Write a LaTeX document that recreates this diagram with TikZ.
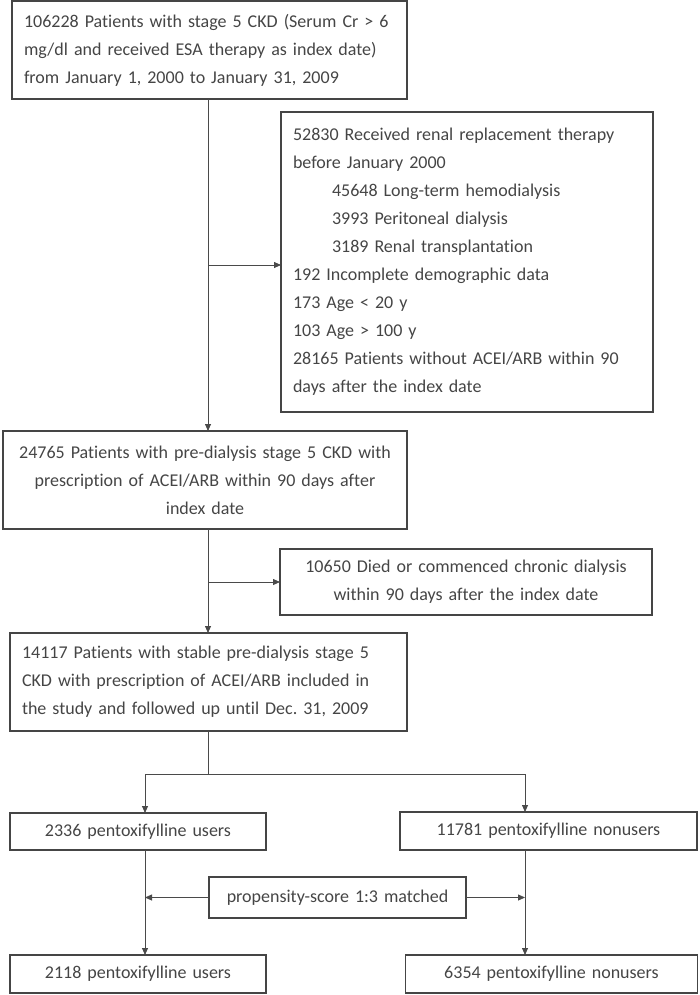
\documentclass[tikz,border=0pt]{standalone}
\usepackage{fontspec}
\setmainfont{Carlito}[Ligatures=NoCommon]
\usetikzlibrary{arrows.meta}
\definecolor{ink}{HTML}{454545}
\definecolor{edge}{HTML}{4A4A4A}
\begin{document}
\begin{tikzpicture}[x=1pt,y=-1pt,
  box/.style={draw=ink, line width=1.1pt, text=ink, rectangle,
    font=\fontsize{18}{28}\selectfont\frenchspacing, inner xsep=12pt, inner ysep=0pt, outer sep=0pt},
  arr/.style={draw=edge, line width=0.8pt, -{Triangle[length=7pt,width=6pt]}},
  ln/.style={draw=edge, line width=0.8pt}]
\useasboundingbox (0,0) rectangle (700,995);

\node[box, text width=371pt, minimum height=98pt, align=left] (b1) at (209.5,50)
 {106228 Patients with stage 5 CKD (Serum Cr > 6\\
  mg/dl and received ESA therapy as index date)\\
  from January 1, 2000 to January 31, 2009};

\node[box, text width=348pt, minimum height=300pt, align=left] (b2) at (467,262)
 {52830 Received renal replacement therapy\\
  before January 2000\\
  \hspace*{39pt}45648 Long-term hemodialysis\\
  \hspace*{39pt}3993 Peritoneal dialysis\\
  \hspace*{39pt}3189 Renal transplantation\\
  192 Incomplete demographic data\\
  173 Age < 20 y\\
  103 Age > 100 y\\
  28165 Patients without ACEI/ARB within 90\\
  days after the index date};

\node[box, text width=380pt, minimum height=98pt, align=center] (b3) at (205,480)
 {24765 Patients with pre-dialysis stage 5 CKD with\\
  prescription of ACEI/ARB within 90 days after\\
  index date};

\node[box, text width=348pt, minimum height=66pt, align=center] (b5) at (466,582)
 {10650 Died or commenced chronic dialysis\\
  within 90 days after the index date};

\node[box, text width=373pt, minimum height=98pt, align=left] (b4) at (208.5,682)
 {14117 Patients with stable pre-dialysis stage 5\\
  CKD with prescription of ACEI/ARB included in\\
  the study and followed up until Dec. 31, 2009};

\node[box, text width=232pt, minimum height=37pt, align=center] (b6) at (138,831.5)
 {2336 pentoxifylline users};
\node[box, text width=273pt, minimum height=38pt, align=center] (b7) at (548.5,831)
 {11781 pentoxifylline nonusers};
\node[box, text width=233pt, minimum height=41pt, align=center] (b10) at (337.5,897.5)
 {propensity-score 1:3 matched};
\node[box, text width=232pt, minimum height=38pt, align=center] (b8) at (138,974)
 {2118 pentoxifylline users};
\node[box, text width=268pt, minimum height=38pt, align=center] (b9) at (551.5,974)
 {6354 pentoxifylline nonusers};

\coordinate (x1) at (208,0);
\coordinate (j1) at (208,265);
\coordinate (j2) at (208,582);
\coordinate (s) at (208,774);
\coordinate (xl) at (145,774);
\coordinate (xr) at (525,774);

\draw[arr] (b1.south -| x1) -- (b3.north -| x1);
\draw[arr] (j1) -- (j1 -| b2.west);
\draw[arr] (b3.south -| x1) -- (b4.north -| x1);
\draw[arr] (j2) -- (j2 -| b5.west);
\draw[ln] (b4.south -| x1) -- (s);
\draw[ln] (xl) -- (xr);
\draw[arr] (xl) -- (xl |- b6.north);
\draw[arr] (xr) -- (xr |- b7.north);
\draw[arr] (b6.south -| xl) -- (b8.north -| xl);
\draw[arr] (b7.south -| xr) -- (b9.north -| xr);
\draw[arr] (b10.west) -- (b10.west -| xl);
\draw[arr] (b10.east) -- (b10.east -| xr);
\end{tikzpicture}
\end{document}
